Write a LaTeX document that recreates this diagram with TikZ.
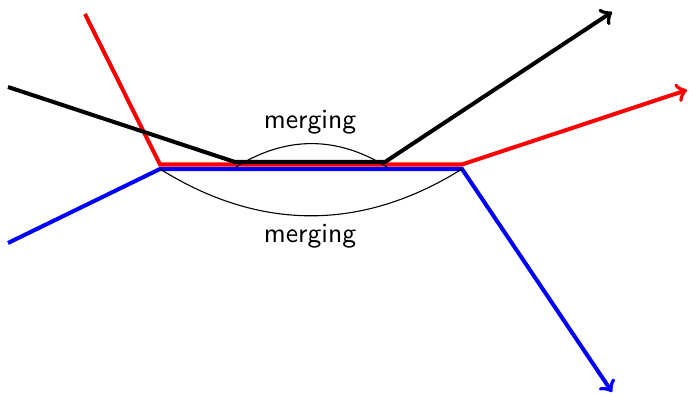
\documentclass[tikz,border=0pt]{standalone}
\usepackage{tikz}
\usetikzlibrary{arrows}

\begin{document}
\begin{tikzpicture}[x=0.0127cm, y=-0.0127cm, >=to, font=\sffamily]
    % Styles
    \tikzstyle{path} = [line width=1.45pt, line join=miter]
    \tikzstyle{arc} = [draw, line width=0.4pt]
    \tikzstyle{label} = [inner sep=0pt]

    \useasboundingbox (0,0) rectangle (689,396);

    % Points
    \coordinate (kin) at (8,87);
    \coordinate (ka) at (235,162);
    \coordinate (kb) at (385,162);
    \coordinate (kout) at (612,12);
    \coordinate (rin) at (85,14);
    \coordinate (ra) at (160,164.5);
    \coordinate (rb) at (462,164.5);
    \coordinate (rout) at (687,90);
    \coordinate (bin) at (8,243);
    \coordinate (ba) at (160,169);
    \coordinate (bb) at (462,169);
    \coordinate (bout) at (612,392);
    \coordinate (ta) at (236,167);
    \coordinate (tb) at (387,167);

    % Paths
    \draw [path, blue, ->] (bin) -- (ba) -- (bb) -- (bout);
    \draw [path, red, ->] (rin) -- (ra) -- (rb) -- (rout);
    \draw [path, black, ->] (kin) -- (ka) -- (kb) -- (kout);

    % Merging arcs
    \path [arc] (ta) to[bend left=32] (tb);
    \path [arc] (ba) to[bend right=32] (bb);
    \node [label] (mtop) at (310,122) {merging};
    \node [label] (mbot) at (310,236) {merging};

\end{tikzpicture}
\end{document}
